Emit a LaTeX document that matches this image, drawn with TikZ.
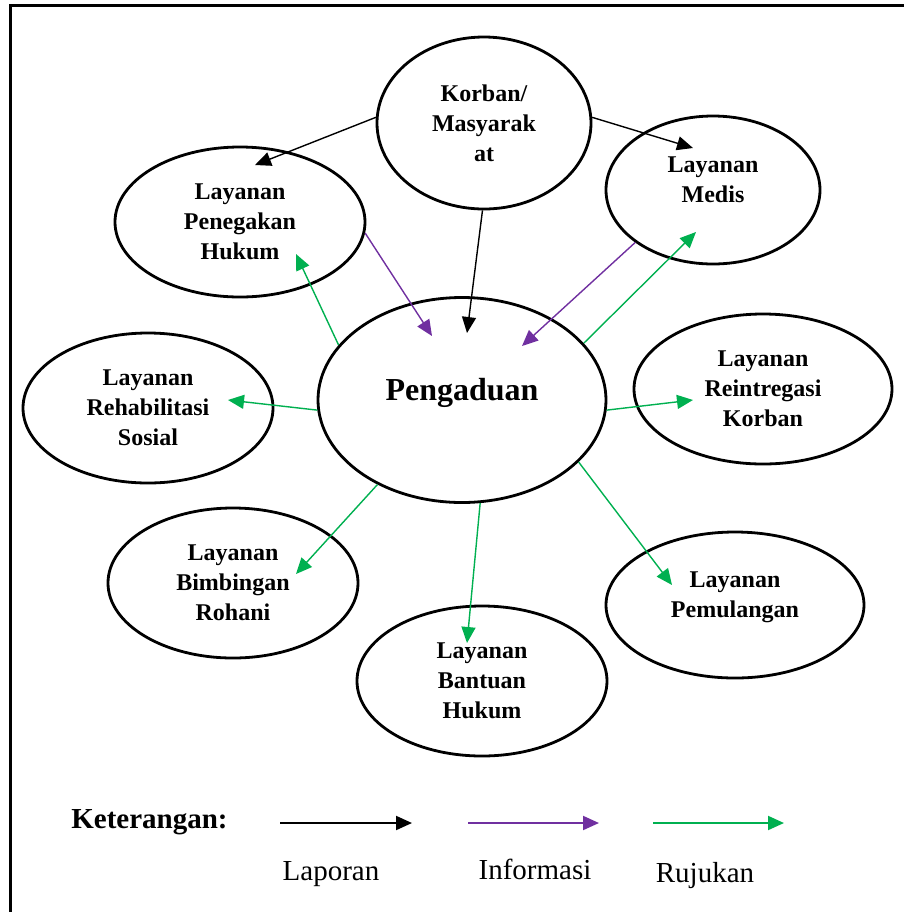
\documentclass[tikz,border=0pt]{standalone}
\usepackage{fontspec}
\setmainfont{Liberation Serif}
\usepackage{tikz}
\usetikzlibrary{shapes, arrows.meta, calc}
\definecolor{infopurple}{RGB}{112,48,160}
\definecolor{rujukgreen}{RGB}{0,176,80}

\begin{document}
\begin{tikzpicture}[x=0.5pt, y=-0.5pt]
	\tikzstyle{layanan}=[
	draw,
	ellipse,
	line width=1.4pt,
	inner sep=0pt,
	align=center,
	minimum width=125pt,
	minimum height=75pt,
	font=\fontsize{12}{15}\selectfont\bfseries
	]
	\tikzstyle{laporan}=[-{Triangle[length=8pt,width=7pt]}, line width=0.7pt, black]
	\tikzstyle{informasi}=[laporan, infopurple]
	\tikzstyle{rujukan}=[laporan, rujukgreen]
	\tikzstyle{legendline}=[line width=1pt]
	\tikzstyle{legendtext}=[font=\fontsize{14.5}{17}\selectfont, anchor=base]
	\useasboundingbox (0,0) rectangle (904,912);
	\draw[line width=1.5pt] (10.5,912) -- (10.5,5.5) -- (904,5.5);
	\node[layanan, minimum width=107pt, minimum height=86pt] (korban) at (484,123) {Korban/\\Masyarak\\at};
	\node[layanan] (heg) at (240,222) {Layanan\\Penegakan\\Hukum};
	\node[layanan, minimum width=107pt, minimum height=74pt, text depth=10pt] (medis) at (713,190) {Layanan\\Medis};
	\node[layanan, minimum width=144pt, minimum height=102.5pt, text height=11pt, text depth=11pt,
		font=\fontsize{16}{19}\selectfont\bfseries] (peng) at (462,400) {Pengaduan};
	\node[layanan] (rehab) at (148,408) {Layanan\\Rehabilitasi\\Sosial};
	\node[layanan, minimum width=129pt] (reint) at (763,389) {Layanan\\Reintregasi\\Korban};
	\node[layanan] (bimb) at (233,583) {Layanan\\Bimbingan\\Rohani};
	\node[layanan, minimum width=129pt, minimum height=73pt, text depth=10pt] (pulang) at (735,605) {Layanan\\Pemulangan};
	\node[layanan] (bantuan) at (482,681) {Layanan\\Bantuan\\Hukum};
	\draw[laporan] (korban.177) -- ([shift={(15,-57)}]heg.center);
	\draw[laporan] (korban.3) -- ([shift={(-20,-42)}]medis.center);
	\draw[laporan] (korban.269) -- ([shift={(5,-67)}]peng.center);
	\draw[informasi] (heg.-5) -- ([shift={(-30,-64)}]peng.center);
	\draw[informasi] (medis.214) -- ([shift={(60,-54)}]peng.center);
	\draw[rujukan] (peng.156) -- ([shift={(56,32)}]heg.center);
	\draw[rujukan] (peng.25) -- ([shift={(-17,42)}]medis.center);
	\draw[rujukan] (peng.184) -- ([shift={(80,-8)}]rehab.center);
	\draw[rujukan] (peng.-4) -- ([shift={(-70,11)}]reint.center);
	\draw[rujukan] (peng.225) -- ([shift={(63,-9)}]bimb.center);
	\draw[rujukan] (peng.280) -- ([shift={(-15,-38)}]bantuan.center);
	\draw[rujukan] (peng.-28) -- ([shift={(-63,-20)}]pulang.center);
	\node[font=\fontsize{14.5}{17}\selectfont\bfseries, inner sep=0pt, anchor=base west] (ket) at (71,828) {Keterangan:};
	\coordinate (lapA) at (280,823);
	\coordinate (lapB) at (412,823);
	\coordinate (infA) at (468,823);
	\coordinate (infB) at (599,823);
	\coordinate (rujA) at (653,823);
	\coordinate (rujB) at (784,823);
	\draw[laporan, legendline] (lapA) -- (lapB);
	\draw[informasi, legendline] (infA) -- (infB);
	\draw[rujukan, legendline] (rujA) -- (rujB);
	\node[legendtext] (lap) at (331,880) {Laporan};
	\node[legendtext] (inf) at (535,879) {Informasi};
	\node[legendtext] (ruj) at (705,882) {Rujukan};
\end{tikzpicture}
\end{document}
